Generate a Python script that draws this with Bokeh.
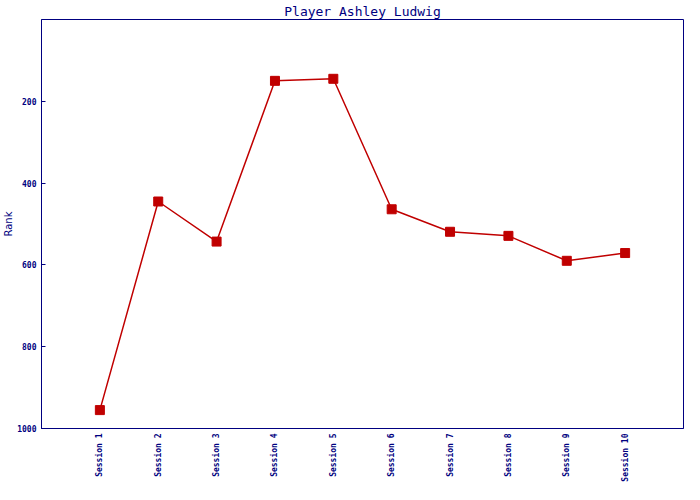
from bokeh.plotting import figure
from bokeh.models import Range1d, FixedTicker, ColumnDataSource
from bokeh.embed import file_html
from bokeh.resources import INLINE
import math

sessions = ["Session 1", "Session 2", "Session 3", "Session 4", "Session 5",
            "Session 6", "Session 7", "Session 8", "Session 9", "Session 10"]
ranks = [955, 445, 543, 150, 145, 464, 519, 529, 590, 571]
y_ticks = [200, 400, 600, 800, 1000]

xs = list(range(1, len(sessions) + 1))
src = ColumnDataSource(dict(x=xs, rank=ranks, label=sessions))

NAVY = "#000080"
RED = "#C00000"

p = figure(width=684, height=484, output_backend="svg", toolbar_location=None,
           x_range=Range1d(0, len(sessions) + 1), y_range=Range1d(1000, 0),
           title="Player Ashley Ludwig",
           min_border_left=0, min_border_right=1, min_border_top=0, min_border_bottom=0)

p.title.align = "center"
p.title.text_font = "DejaVu Sans Mono"
p.title.text_font_size = "13px"
p.title.text_font_style = "normal"
p.title.text_color = NAVY
p.title.offset = 0
p.title.standoff = 2

p.line("x", "rank", source=src, line_color=RED, line_width=1.5)
p.scatter("x", "rank", source=src, marker="square", size=9, fill_color=RED, line_color=RED)

p.xgrid.grid_line_color = None
p.ygrid.grid_line_color = None
p.outline_line_color = NAVY
p.outline_line_width = 1
p.outline_line_alpha = 1
p.background_fill_color = "white"
p.border_fill_color = "white"

xa = p.xaxis[0]
xa.ticker = FixedTicker(ticks=xs)
xa.major_label_overrides = {i: s for i, s in zip(xs, sessions)}
xa.major_label_orientation = math.pi / 2
xa.major_label_text_font = "DejaVu Sans Mono"
xa.major_label_text_font_size = "8px"
xa.major_label_text_font_style = "bold"
xa.major_label_text_color = NAVY
xa.major_tick_line_color = None
xa.major_tick_in = 0
xa.major_tick_out = 0
xa.minor_tick_line_color = None
xa.minor_tick_out = 0
xa.axis_line_color = NAVY
xa.major_label_standoff = 5
xa.axis_label_standoff = 0
xa.axis_label_text_font_size = "0px"

ya = p.yaxis[0]
ya.ticker = FixedTicker(ticks=y_ticks)
ya.major_label_text_font = "DejaVu Sans Mono"
ya.major_label_text_font_size = "8px"
ya.major_label_text_font_style = "bold"
ya.major_label_text_color = NAVY
ya.major_tick_in = 4
ya.major_tick_out = 0
ya.major_tick_line_color = NAVY
ya.minor_tick_line_color = None
ya.minor_tick_out = 0
ya.axis_line_color = NAVY
ya.axis_label = "Rank"
ya.axis_label_text_font = "DejaVu Sans"
ya.axis_label_text_font_size = "10px"
ya.axis_label_text_font_style = "normal"
ya.axis_label_text_color = NAVY
ya.axis_label_standoff = 0
ya.major_label_standoff = 5

open("out.html", "w").write(file_html(p, INLINE))
